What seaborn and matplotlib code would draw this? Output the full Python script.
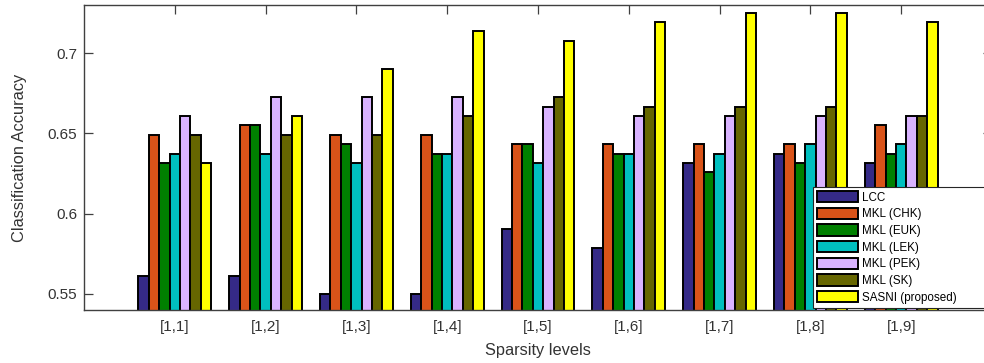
import matplotlib
matplotlib.use("Agg")
import matplotlib.pyplot as plt
from matplotlib.patches import Patch
import seaborn as sns
import pandas as pd

# Sparsity levels on the x axis
levels = ["[1,1]", "[1,2]", "[1,3]", "[1,4]", "[1,5]", "[1,6]", "[1,7]", "[1,8]", "[1,9]"]

# Classification accuracy per method
lcc      = [0.5614, 0.5614, 0.5497, 0.5497, 0.5906, 0.5789, 0.6316, 0.6374, 0.6316]
mkl_chk  = [0.6491, 0.6550, 0.6491, 0.6491, 0.6433, 0.6433, 0.6433, 0.6433, 0.6550]
mkl_euk  = [0.6316, 0.6550, 0.6433, 0.6374, 0.6433, 0.6374, 0.6257, 0.6316, 0.6374]
mkl_lek  = [0.6374, 0.6374, 0.6316, 0.6374, 0.6316, 0.6374, 0.6374, 0.6433, 0.6433]
mkl_pek  = [0.6608, 0.6725, 0.6725, 0.6725, 0.6667, 0.6608, 0.6608, 0.6608, 0.6608]
mkl_sk   = [0.6491, 0.6491, 0.6491, 0.6608, 0.6725, 0.6667, 0.6667, 0.6667, 0.6608]
sasni    = [0.6316, 0.6608, 0.6901, 0.7135, 0.7076, 0.7193, 0.7251, 0.7251, 0.7193]

methods = ["LCC", "MKL (CHK)", "MKL (EUK)", "MKL (LEK)", "MKL (PEK)", "MKL (SK)", "SASNI (proposed)"]
series = [lcc, mkl_chk, mkl_euk, mkl_lek, mkl_pek, mkl_sk, sasni]
colors = ["#352a87", "#d95319", "#008000", "#00bfbf", "#d9b3ff", "#666600", "#ffff00"]

df = pd.DataFrame(
    [(lvl, m, v) for m, vals in zip(methods, series) for lvl, v in zip(levels, vals)],
    columns=["level", "method", "accuracy"],
)

sns.set_theme(style="white")
plt.rcParams["font.family"] = ["Liberation Sans", "DejaVu Sans"]
text_col = "#333333"
axis_col = "#404040"

fig = plt.figure(figsize=(9.84, 3.63), dpi=100)
ax = fig.add_axes([84 / 984, 53 / 363, 908 / 984, 305 / 363])

sns.barplot(
    data=df, x="level", y="accuracy", hue="method",
    hue_order=methods, order=levels, palette=colors,
    width=0.8, edgecolor="black", linewidth=1.4,
    saturation=1, legend=False, errorbar=None, ax=ax,
)

ax.set_xlim(-1, 9)
ax.set_ylim(0.54, 0.73)
ax.set_yticks([0.55, 0.6, 0.65, 0.7])
ax.set_yticklabels(["0.55", "0.6", "0.65", "0.7"])
ax.set_axisbelow(True)

for side in ["left", "bottom", "top", "right"]:
    ax.spines[side].set_visible(True)
    ax.spines[side].set_color(axis_col)
    ax.spines[side].set_linewidth(1.0)

ax.tick_params(axis="both", which="both", direction="in", length=6.5, width=0.9,
               color=axis_col, labelcolor=text_col, labelsize=11, pad=5,
               top=True, right=True, bottom=True, left=True)
ax.tick_params(axis="x", pad=7.5)

ax.set_xlabel("Sparsity levels", fontsize=11.8, color=text_col, labelpad=6.5)
ax.set_ylabel("Classification Accuracy", fontsize=11.8, color=text_col, labelpad=15)

handles = [Patch(facecolor=c, edgecolor="black", linewidth=1.4) for c in colors]
leg_h = 120 / 305
leg = ax.legend(
    handles, methods, loc="upper left",
    bbox_to_anchor=(0.803, 0.403 - leg_h, 0.25, leg_h), mode="expand",
    fontsize=8.4, frameon=True, fancybox=False, framealpha=1,
    handlelength=3.5, handleheight=1.1, handletextpad=0.35,
    labelspacing=0.35, borderpad=0.35, borderaxespad=0,
)
leg.get_frame().set_edgecolor("#262626")
leg.get_frame().set_linewidth(0.8)
for t in leg.get_texts():
    t.set_color("black")

fig.savefig("out.png", dpi=100)
